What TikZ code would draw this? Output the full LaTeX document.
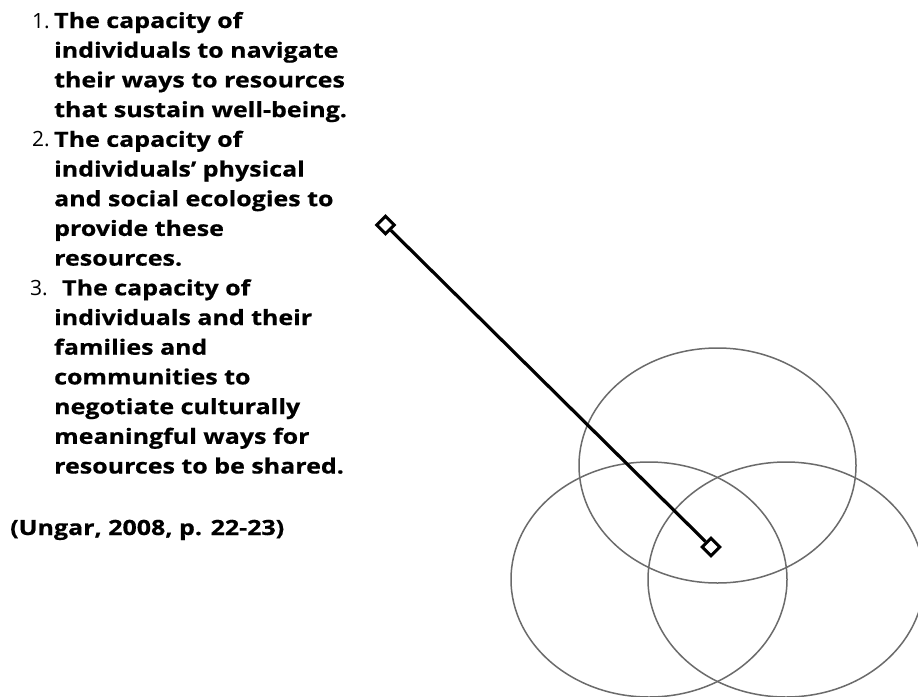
\documentclass[tikz,border=0pt]{standalone}
\usepackage{fontspec}
\setmainfont{Open Sans}
\newfontfamily\widebold[FakeStretch=1.19,FakeBold=0.6]{Open Sans Bold}
\tikzset{
  txt/.style={anchor=base west, inner sep=0pt, font=\fontsize{21}{29.7}\widebold},
  num/.style={anchor=base west, inner sep=0pt, font=\fontsize{21}{29.7}\selectfont},
  venn/.style={draw=black!58, line width=1.5pt},
  tipbox/.style={draw, line width=3pt, fill=white, rectangle, rotate=45, minimum size=12.5pt, inner sep=0pt},
  link/.style={line width=3.2pt}
}
\begin{document}
\begin{tikzpicture}[x=1pt,y=-1pt]
\useasboundingbox (0,0) rectangle (918,696);
\clip (0,0) rectangle (918,696);
\fill[white] (0,0) rectangle (918,696);
% numbers
\node[num] (n1) at (32,28) {1.};
\node[num] (n2) at (32,{28+4*29.7}) {2.};
\node[num] (n3) at (30,{28+9*29.7}) {3.};
% text lines
\foreach \k/\t in {0/The capacity of,1/individuals to navigate,2/their ways to resources,3/that sustain well-being.,4/The capacity of,5/individuals’ physical,6/and social ecologies to,7/provide these,8/resources.,10/individuals and their,11/families and,12/communities to,13/negotiate culturally,14/meaningful ways for,15/resources to be shared.}{
  \node[txt] (l\k) at (54,{28+\k*29.7}) {\t};
}
\node[txt] (l9) at (62,{28+9*29.7}) {The capacity of};
\node[txt] (cite) at (10,535) {(Ungar, 2008, p. 22-23)};
% ellipses
\draw[venn] (717.5,465.5) ellipse [x radius=138.5, y radius=117.5];
\draw[venn] (649,579.5) ellipse [x radius=138, y radius=117.5];
\draw[venn] (786,579.5) ellipse [x radius=138, y radius=117.5];
% pointer
\node[tipbox] (d1) at (385.5,225) {};
\node[tipbox] (d2) at (711,547) {};
\draw[link] (d1) -- (d2);
\end{tikzpicture}
\end{document}
